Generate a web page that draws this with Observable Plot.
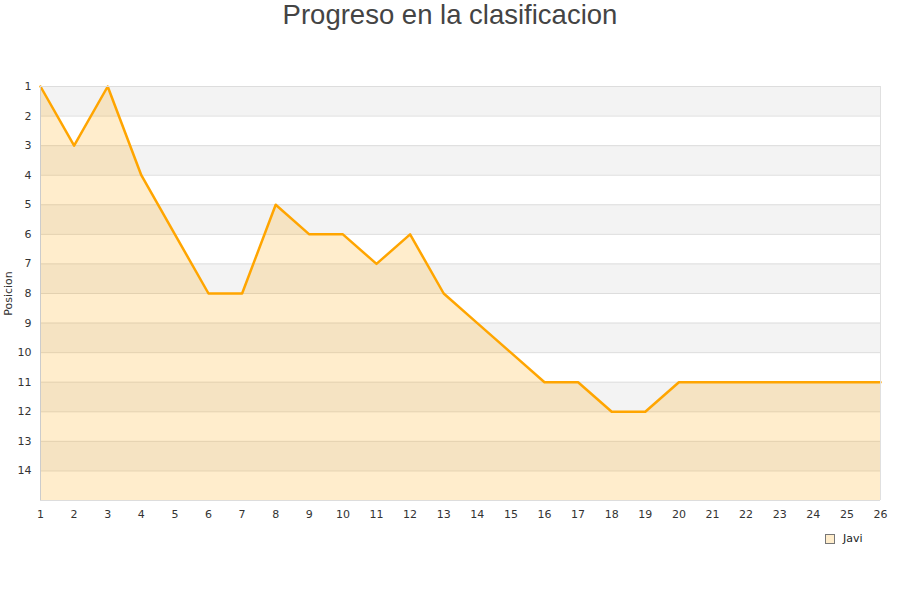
<!DOCTYPE html>
<html>
<head>
<meta charset="utf-8">
<script src="https://cdn.jsdelivr.net/npm/d3@7"></script>
<script src="https://cdn.jsdelivr.net/npm/@observablehq/plot@0.6"></script>
<style>
  body { margin: 0; background: #fff; width: 900px; height: 600px; overflow: hidden; position: relative; }
  #title { height: 35px; line-height: 30px; text-align: center; font-family: "Liberation Sans", Arial, sans-serif; font-size: 27.5px; color: #444; }
  #legend { position: absolute; left: 825px; top: 532px; font-family: "DejaVu Sans", sans-serif; font-size: 11px; color: #222; display: flex; align-items: center; }
  #legend .sw { width: 8px; height: 8px; border: 1px solid #777; background: #ffedcc; margin-right: 8px; }
</style>
</head>
<body>
<div id="title">Progreso en la clasificacion</div>
<div id="chart"></div>
<div id="legend"><span class="sw"></span><span>Javi</span></div>
<script>
const jornadas = d3.range(1, 27);
const posiciones = [1,3,1,4,6,8,8,5,6,6,7,6,8,9,10,11,11,12,12,11,11,11,11,11,11,11];
const yTicks = d3.range(1, 15);
const serie = "Javi";
const data = jornadas.map((j, i) => ({jornada: j, posicion: posiciones[i]}));
const bands = [1,3,5,7,9,11,13].map(b => ({y1: b, y2: b + 1}));

const chart = Plot.plot({
  width: 900,
  height: 490,
  marginTop: 51,
  marginBottom: 25,
  marginLeft: 40,
  marginRight: 20,
  style: { fontFamily: "DejaVu Sans, sans-serif", fontSize: "11px", color: "#333", background: "#fff" },
  x: { domain: [1, 26], ticks: jornadas, tickSize: 0, tickPadding: 10, label: null, tickFormat: d => d },
  y: { domain: [1, 15], reverse: true, ticks: yTicks, tickSize: 0, tickPadding: 9, label: "Posicion", labelArrow: "none", labelAnchor: "center", labelOffset: 36 },
  marks: [
    Plot.rectY(bands, { x1: 1, x2: 26, y1: "y1", y2: "y2", fill: "#f3f3f3" }),
    Plot.ruleY(yTicks, { stroke: "#dddddd", strokeWidth: 1 }),
    Plot.areaY(data, { x: "jornada", y1: 15, y2: "posicion", fill: "orange", fillOpacity: 0.2 }),
    Plot.lineY(data, { x: "jornada", y: "posicion", stroke: "orange", strokeWidth: 2.5 }),
    Plot.ruleX([1], { stroke: "#cccccc" }),
    Plot.ruleX([26], { stroke: "#e0e0e0" }),
    Plot.ruleY([15], { stroke: "#dddddd" }),
    Plot.ruleY([1], { stroke: "#dddddd" })
  ]
});
document.getElementById("chart").appendChild(chart);
</script>
</body>
</html>
